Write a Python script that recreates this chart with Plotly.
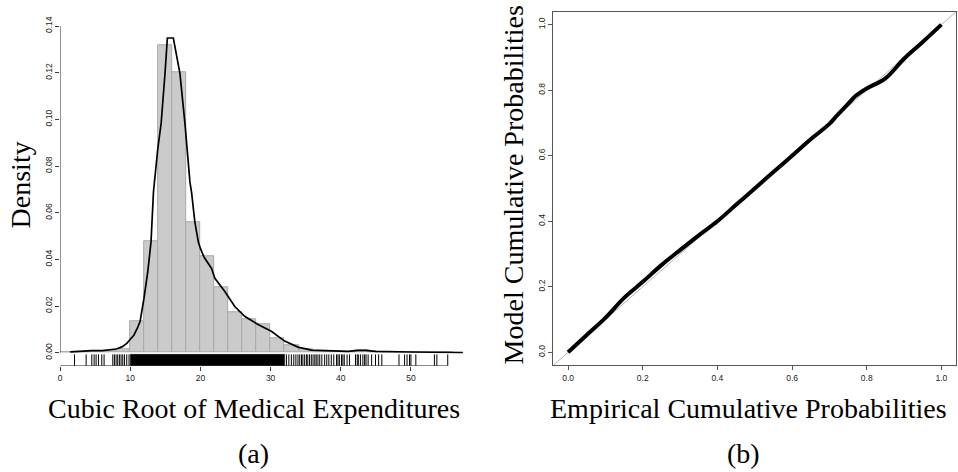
import plotly.graph_objects as go

# ---------------- data: panel (a) ----------------
bin_left = [0, 2, 4, 6, 8, 10, 12, 14, 16, 18, 20, 22, 24, 26, 28, 30, 32, 34, 36, 38,
            40, 42, 44, 46, 48, 50, 52, 54]
bin_density = [0.0002, 0.0003, 0.0006, 0.0005, 0.0016, 0.0135, 0.0478, 0.1316, 0.1200,
               0.0558, 0.0414, 0.0279, 0.0173, 0.0145, 0.0121, 0.0062, 0.0031, 0.0017,
               0.0006, 0.0005, 0.0004, 0.0011, 0.0004, 0.0002, 0.0003, 0.0001, 0.0001,
               0.0001]
bin_width = 2

kde_x = [1.42, 3.0, 4.5, 6.0, 7.35, 8.0, 8.8, 9.5, 10.0, 10.5, 11.0, 11.4, 11.95, 12.5,
         12.95, 13.3, 13.9, 14.4, 14.95, 15.28, 16.13, 17.07, 17.78, 18.5, 18.73, 19.2,
         19.69, 20.0, 20.5, 21.0, 21.58, 22.05, 23.47, 24.89, 26.3, 28.2, 30.1, 32.0,
         33.9, 35.8, 38.6, 41.0, 42.5, 43.5, 45.0, 47.0, 50.0, 53.0, 57.4]
kde_y = [0.0004, 0.0007, 0.0009, 0.0009, 0.0013, 0.0016, 0.0025, 0.0040, 0.0058, 0.0075,
         0.0105, 0.0135, 0.0234, 0.0350, 0.0475, 0.0690, 0.0870, 0.0985, 0.1200, 0.1349,
         0.1349, 0.1197, 0.0985, 0.0730, 0.0687, 0.0560, 0.0475, 0.0446, 0.0410, 0.0385,
         0.0361, 0.0319, 0.0262, 0.0198, 0.0156, 0.0121, 0.0092, 0.0050, 0.0024, 0.0011,
         0.0007, 0.0006, 0.0010, 0.0010, 0.0006, 0.0004, 0.0003, 0.0002, 0.0001]

rug_x = [2.04, 3.70, 4.51, 4.84, 5.12, 5.46, 5.93, 6.26, 7.5, 7.73, 7.97, 8.2, 8.44, 8.68,
         8.92, 9.16, 9.49, 9.82,
         32.25, 32.6, 32.96, 33.3, 33.6, 33.9, 34.15, 34.4, 34.6, 34.85, 35.1, 35.3, 35.55,
         35.8, 36.05, 36.3, 36.5, 36.75, 37.0, 37.3, 37.7, 38.0, 38.3, 38.65, 39.0, 39.4,
         39.6, 39.8, 40.1, 40.3, 40.5, 40.9, 41.25, 42.1, 42.35, 42.5, 42.8, 43.15, 43.4,
         43.6, 43.9, 44.4, 44.95, 45.4, 45.85, 48.3, 49.1, 49.45, 49.8, 50.0, 50.7, 53.35,
         53.7, 55.25]
rug_dense_span = [10.0, 32.0]   # observations so dense the rug is solid black

a_xticks = [0, 10, 20, 30, 40, 50]
a_yticks = [0.00, 0.02, 0.04, 0.06, 0.08, 0.10, 0.12, 0.14]
a_ytext = ["0.00", "0.02", "0.04", "0.06", "0.08", "0.10", "0.12", "0.14"]

# ---------------- data: panel (b) ----------------
emp_prob = [0.0, 0.05, 0.1, 0.15, 0.2, 0.25, 0.3, 0.35, 0.4, 0.45, 0.5, 0.55, 0.6, 0.65,
            0.7, 0.72, 0.75, 0.77, 0.8, 0.85, 0.9, 0.95, 1.0]
model_prob = [0.0, 0.053, 0.105, 0.166, 0.215, 0.266, 0.312, 0.357, 0.400, 0.450, 0.500,
              0.550, 0.600, 0.650, 0.697, 0.722, 0.758, 0.782, 0.805, 0.836, 0.896, 0.947,
              1.0]
b_ticks = [0.0, 0.2, 0.4, 0.6, 0.8, 1.0]
b_ticktext = ["0.0", "0.2", "0.4", "0.6", "0.8", "1.0"]

# ---------------- figure ----------------
W, H = 958, 472
a_xrange = [0, 57.43]
a_yrange = [-0.00565, 0.1425]
b_range = [-0.04, 1.04]
axis_col = "#3a3a3a"
tickfont = dict(family="Liberation Sans, Arial, sans-serif", size=8.5, color="#222")
serif = "Liberation Serif, Times New Roman, serif"

fig = go.Figure()

# histogram bars
fig.add_trace(go.Bar(
    x=[l + bin_width / 2 for l in bin_left], y=bin_density, width=bin_width,
    marker=dict(color="#cbcbcb", line=dict(color="#a9a9a9", width=1)),
    xaxis="x", yaxis="y", showlegend=False, hoverinfo="skip"))

# density curve
fig.add_trace(go.Scatter(
    x=kde_x, y=kde_y, mode="lines", line=dict(color="black", width=1.7),
    xaxis="x", yaxis="y", showlegend=False))

# rug
rug_bottom = a_yrange[0]
rug_top = -0.0007
rx, ry = [], []
for v in rug_x:
    rx += [v, v, None]
    ry += [rug_bottom, rug_top, None]
fig.add_trace(go.Scatter(x=rx, y=ry, mode="lines", line=dict(color="black", width=1),
                         xaxis="x", yaxis="y", showlegend=False))
d0, d1 = rug_dense_span
fig.add_trace(go.Scatter(x=[d0, d1, d1, d0, d0],
                         y=[rug_bottom, rug_bottom, rug_top, rug_top, rug_bottom],
                         mode="lines", fill="toself", fillcolor="black",
                         line=dict(color="black", width=0.5),
                         xaxis="x", yaxis="y", showlegend=False))

# panel (b): reference diagonal and P-P curve
fig.add_trace(go.Scatter(x=b_range, y=b_range, mode="lines",
                         line=dict(color="#b5b5b5", width=1),
                         xaxis="x2", yaxis="y2", showlegend=False))
fig.add_trace(go.Scatter(x=emp_prob, y=model_prob, mode="lines",
                         line=dict(color="black", width=4, shape="spline"),
                         xaxis="x2", yaxis="y2", showlegend=False))

px = lambda p: p / W
py = lambda p: 1 - p / H

fig.update_layout(
    width=W, height=H, margin=dict(l=0, r=0, t=0, b=0),
    paper_bgcolor="white", plot_bgcolor="white", bargap=0,
    xaxis=dict(domain=[px(58.3), px(462)], range=a_xrange, showgrid=False, zeroline=False,
               showline=False, tickvals=a_xticks, ticks="outside", ticklen=4,
               tickcolor=axis_col, tickfont=tickfont, anchor="y"),
    yaxis=dict(domain=[py(365), py(16.4)], range=a_yrange, showgrid=False, zeroline=False,
               showline=False, tickvals=a_yticks, ticktext=a_ytext, ticks="outside",
               ticklen=4, tickcolor=axis_col, tickfont=tickfont, tickangle=-90,
               anchor="x"),
    xaxis2=dict(domain=[px(552.3), px(956.3)], range=b_range, showgrid=False,
                zeroline=False, showline=True, linecolor="#555", linewidth=1, mirror=True,
                tickvals=b_ticks, ticktext=b_ticktext, ticks="outside", ticklen=4,
                tickcolor="#555", tickfont=tickfont, anchor="y2"),
    yaxis2=dict(domain=[py(364.5), py(7.6)], range=b_range, showgrid=False,
                zeroline=False, showline=True, linecolor="#555", linewidth=1, mirror=True,
                tickvals=b_ticks, ticktext=b_ticktext, ticks="outside", ticklen=4,
                tickcolor="#555", tickfont=tickfont, tickangle=-90, anchor="x2"),
)

# R-style partial axis lines for panel (a)
fig.add_shape(type="line", xref="x", yref="y", x0=0, x1=0, y0=a_yticks[0], y1=a_yticks[-1],
              line=dict(color=axis_col, width=1))
fig.add_shape(type="line", xref="x", yref="y", x0=a_xticks[0], x1=rug_x[-1],
              y0=a_yrange[0], y1=a_yrange[0], line=dict(color=axis_col, width=1))

def ann(text, x, y, size=28, angle=0):
    fig.add_annotation(text=text, xref="paper", yref="paper", x=px(x), y=py(y),
                       xanchor="center", yanchor="middle", showarrow=False,
                       textangle=angle, font=dict(family=serif, size=size, color="black"))

ann("Density", 18, 182, angle=-90)
ann("Cubic Root of Medical Expenditures", 253, 408)
ann("(a)", 251.7, 453)
ann("Model Cumulative Probabilities", 513, 182, angle=-90)
ann("Empirical Cumulative Probabilities", 747.7, 408)
ann("(b)", 743.3, 453)

fig.write_html("out.html")
